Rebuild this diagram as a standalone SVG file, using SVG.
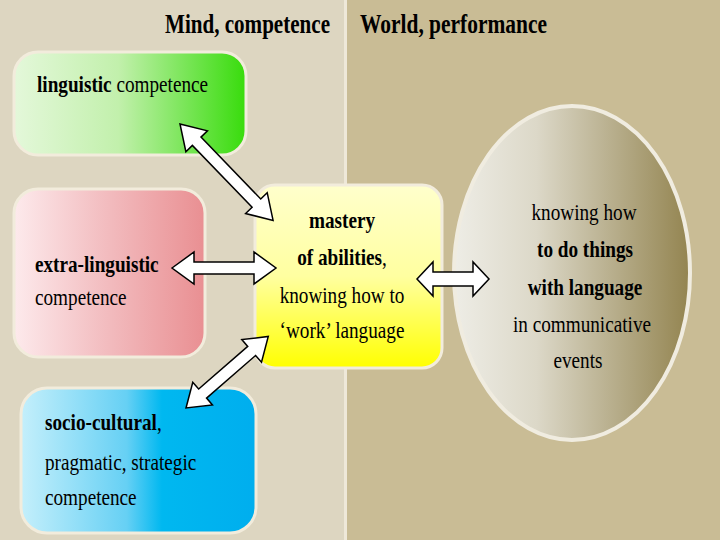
<svg xmlns="http://www.w3.org/2000/svg" width="720" height="540" viewBox="0 0 720 540">
<defs>
<linearGradient id="gGreen" x1="0" y1="0" x2="1" y2="0"><stop offset="0" stop-color="#e4f8da"/><stop offset="0.45" stop-color="#c2f0ac"/><stop offset="1" stop-color="#38dc0c"/></linearGradient>
<linearGradient id="gPink" x1="0" y1="0" x2="1" y2="0"><stop offset="0" stop-color="#fdeaec"/><stop offset="0.45" stop-color="#f3bfc2"/><stop offset="1" stop-color="#e98f92"/></linearGradient>
<linearGradient id="gBlue" x1="0" y1="0" x2="1" y2="0"><stop offset="0" stop-color="#c4effb"/><stop offset="0.45" stop-color="#66d0f4"/><stop offset="0.6" stop-color="#00b8f0"/><stop offset="1" stop-color="#00aeee"/></linearGradient>
<linearGradient id="gYellow" x1="0" y1="0" x2="0" y2="1"><stop offset="0" stop-color="#ffffcc"/><stop offset="0.5" stop-color="#ffffa0"/><stop offset="1" stop-color="#ffff00"/></linearGradient>
<linearGradient id="gOval" x1="0" y1="0" x2="1" y2="0"><stop offset="0" stop-color="#eeede6"/><stop offset="0.35" stop-color="#dcd8c8"/><stop offset="1" stop-color="#938450"/></linearGradient>
<style>
.box{stroke:#f2ecdc;stroke-width:3}
.t{font-family:"Liberation Serif","Times New Roman",serif;font-size:24px;fill:#000}
.m{text-anchor:middle}
.b{font-weight:bold}
.h{font-family:"Liberation Serif","Times New Roman",serif;font-size:27px;font-weight:bold;fill:#000}
.arr{fill:#fff;stroke:#000;stroke-width:1.5;stroke-linejoin:miter}
</style>
</defs>
<rect x="0" y="0" width="346" height="540" fill="#ddd6c1"/>
<rect x="346" y="0" width="374" height="540" fill="#c9bc95"/>
<rect x="344" y="0" width="3" height="540" fill="#eee8d8"/>
<g id="titles">
<text class="h" x="165" y="33" textLength="165" lengthAdjust="spacingAndGlyphs">Mind, competence</text>
<text class="h" x="360" y="33" textLength="187" lengthAdjust="spacingAndGlyphs">World, performance</text>
</g>
<g id="linguistic">
<rect class="box" x="14" y="52" width="232" height="103" rx="24" fill="url(#gGreen)"/>
<text class="t" transform="translate(37,92) scale(0.8,1)"><tspan class="b">linguistic</tspan> competence</text>
</g>
<g id="extra">
<rect class="box" x="14" y="189" width="191" height="168" rx="24" fill="url(#gPink)"/>
<text class="t b" transform="translate(35,272) scale(0.8,1)">extra-linguistic</text>
<text class="t" transform="translate(35,305) scale(0.8,1)">competence</text>
</g>
<g id="socio">
<rect class="box" x="21" y="388" width="235" height="145" rx="26" fill="url(#gBlue)"/>
<text class="t" transform="translate(45,430) scale(0.8,1)"><tspan class="b">socio-cultural</tspan>,</text>
<text class="t" transform="translate(45,470) scale(0.8,1)">pragmatic, strategic</text>
<text class="t" transform="translate(45,505) scale(0.8,1)">competence</text>
</g>
<g id="mastery">
<rect class="box" x="255" y="185" width="187" height="183" rx="20" fill="url(#gYellow)"/>
<text class="t b m" transform="translate(342,228) scale(0.8,1)">mastery</text>
<text class="t m" transform="translate(342,265) scale(0.8,1)"><tspan class="b">of abilities</tspan>,</text>
<text class="t m" transform="translate(342,303) scale(0.8,1)">knowing how to</text>
<text class="t m" transform="translate(342,338) scale(0.8,1)">‘work’ language</text>
</g>
<g id="world">
<ellipse cx="572" cy="273" rx="118" ry="167" fill="url(#gOval)" stroke="#f0ece0" stroke-width="4"/>
<text class="t m" transform="translate(584,220) scale(0.8,1)">knowing how</text>
<text class="t b m" transform="translate(585,257) scale(0.8,1)">to do things</text>
<text class="t b m" transform="translate(585,295) scale(0.8,1)">with language</text>
<text class="t m" transform="translate(582,332) scale(0.8,1)">in communicative</text>
<text class="t m" transform="translate(578,368) scale(0.8,1)">events</text>
</g>
<g id="connectors">
<polygon class="arr" transform="translate(180,124) rotate(46)" points="0,0 24,-15 24,-6 110,-6 110,-15 134,0 110,15 110,6 24,6 24,15"/>
<polygon class="arr" transform="translate(172,268)" points="0,0 22,-16 22,-6 82,-6 82,-16 104,0 82,16 82,6 22,6 22,16"/>
<polygon class="arr" transform="translate(186,408) rotate(-41)" points="0,0 22,-15 22,-6 87,-6 87,-15 109,0 87,15 87,6 22,6 22,15"/>
<polygon class="arr" transform="translate(417,279)" points="0,0 16,-17 16,-7 56,-7 56,-17 72,0 56,17 56,7 16,7 16,17"/>
</g>
</svg>
